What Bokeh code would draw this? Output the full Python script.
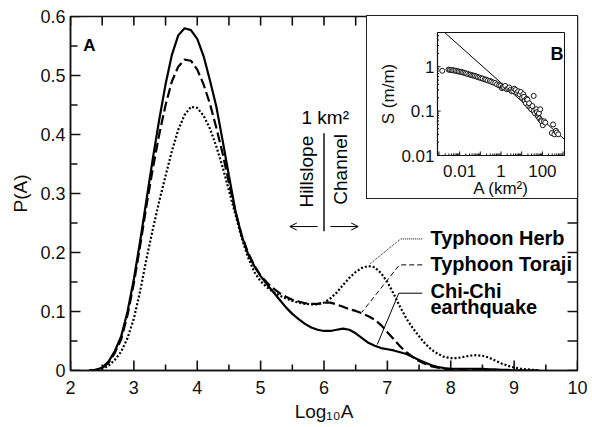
import math
from bokeh.plotting import figure
from bokeh.models import Range1d, FixedTicker, Arrow, OpenHead
from bokeh.layouts import column
from bokeh.embed import file_html
from bokeh.resources import INLINE
from bokeh.core.properties import value

FONT = "Liberation Sans"
INK = "#111111"

# ---------------- main panel data ----------------
log_area = [2.3, 2.4, 2.5, 2.6, 2.7, 2.8, 2.9, 3.0, 3.1, 3.2, 3.3, 3.4, 3.5, 3.6,
            3.7, 3.8, 3.9, 4.0, 4.1, 4.2, 4.3, 4.4, 4.5, 4.6, 4.7, 4.8, 4.9, 5.0,
            5.1, 5.2, 5.3, 5.4, 5.5, 5.6, 5.7, 5.8, 5.9, 6.0, 6.1, 6.2, 6.3, 6.4,
            6.5, 6.6, 6.7, 6.8, 6.9, 7.0, 7.1, 7.2, 7.3, 7.4, 7.5, 7.6, 7.7, 7.8,
            7.9, 8.0, 8.1, 8.2, 8.3, 8.4, 8.5, 8.6, 8.7, 8.8, 8.9, 9.0, 9.1, 9.2,
            9.3, 9.4]

chichi = [0.000, 0.001, 0.005, 0.015, 0.033, 0.058, 0.100, 0.155, 0.220, 0.290,
          0.360, 0.425, 0.485, 0.535, 0.568, 0.580, 0.577, 0.562, 0.533, 0.492,
          0.448, 0.390, 0.330, 0.272, 0.228, 0.198, 0.177, 0.160, 0.146, 0.133,
          0.120, 0.107, 0.096, 0.087, 0.079, 0.073, 0.069, 0.067, 0.067, 0.069,
          0.071, 0.069, 0.063, 0.055, 0.047, 0.042, 0.038, 0.036, 0.034, 0.031,
          0.028, 0.023, 0.018, 0.013, 0.009, 0.006, 0.004, 0.003, 0.003, 0.003,
          0.003, 0.003, 0.003, 0.002, 0.002, 0.001, 0.001, 0.000, 0.000, 0.000,
          0.000, 0.000]

toraji = [0.000, 0.001, 0.004, 0.013, 0.030, 0.053, 0.094, 0.148, 0.212, 0.280,
          0.343, 0.400, 0.450, 0.490, 0.515, 0.527, 0.525, 0.510, 0.485, 0.452,
          0.412, 0.368, 0.318, 0.270, 0.230, 0.200, 0.178, 0.161, 0.149, 0.139,
          0.131, 0.125, 0.120, 0.117, 0.114, 0.113, 0.113, 0.115, 0.115, 0.112,
          0.108, 0.104, 0.101, 0.097, 0.092, 0.086, 0.077, 0.065, 0.053, 0.041,
          0.031, 0.023, 0.016, 0.011, 0.007, 0.005, 0.003, 0.002, 0.002, 0.001,
          0.001, 0.001, 0.001, 0.001, 0.000, 0.000, 0.000, 0.000, 0.000, 0.000,
          0.000, 0.000]

herb = [0.000, 0.001, 0.003, 0.008, 0.018, 0.032, 0.055, 0.088, 0.135, 0.190,
        0.240, 0.287, 0.330, 0.372, 0.408, 0.433, 0.447, 0.445, 0.432, 0.410,
        0.380, 0.345, 0.305, 0.265, 0.225, 0.192, 0.167, 0.151, 0.141, 0.133,
        0.127, 0.122, 0.118, 0.115, 0.113, 0.112, 0.112, 0.115, 0.122, 0.132,
        0.145, 0.157, 0.167, 0.174, 0.177, 0.175, 0.165, 0.150, 0.130, 0.108,
        0.088, 0.072, 0.058, 0.045, 0.035, 0.028, 0.023, 0.021, 0.021, 0.023,
        0.025, 0.026, 0.025, 0.022, 0.017, 0.012, 0.008, 0.005, 0.003, 0.002,
        0.001, 0.000]

x_ticks = [2, 3, 4, 5, 6, 7, 8, 9, 10]
y_ticks = [0.0, 0.1, 0.2, 0.3, 0.4, 0.5, 0.6]

# labels and their leader lines (data coordinates)
series_labels = ["Typhoon Herb", "Typhoon Toraji", "Chi-Chi", "earthquake"]
label_x = [7.68, 7.68, 7.68, 7.68]
label_y = [0.224, 0.180, 0.135, 0.107]
herb_lead_x = [7.55, 7.21, 6.73]
herb_lead_y = [0.223, 0.223, 0.181]
toraji_lead_x = [7.55, 7.19, 6.60]
toraji_lead_y = [0.179, 0.179, 0.099]
chichi_lead_x = [7.55, 7.18, 6.84]
chichi_lead_y = [0.131, 0.131, 0.044]

# ---------------- inset data ----------------
inset_area = [0.00144, 0.0029, 0.0034, 0.0040, 0.0047, 0.0055, 0.0065, 0.0077,
              0.0090, 0.0107, 0.0125, 0.0146, 0.0170, 0.0200, 0.0235, 0.0290,
              0.0340, 0.0400, 0.0470, 0.0550, 0.0650, 0.0770, 0.0920, 0.110,
              0.130, 0.164, 0.190, 0.230, 0.290, 0.340, 0.420, 0.520, 0.640,
              0.800, 0.950, 1.10, 1.23, 1.40, 1.60, 1.90, 2.20, 2.50, 2.90, 3.30,
              3.90, 4.40, 5.10, 5.90, 6.80, 7.90, 9.10, 10.5, 12.0, 13.0, 14.0,
              16.0, 17.5, 19.0, 21.0, 23.0, 26.0, 29.0, 33.0, 38.0, 38.0, 44.0,
              51.0, 55.0, 59.0, 64.0, 68.0, 72.0, 79.0, 85.0, 91.0, 105.0, 120.0,
              138.0, 287.0, 330.0, 380.0, 450.0, 500.0, 585.0]
inset_slope = [0.81, 0.86, 0.85, 0.84, 0.83, 0.82, 0.81, 0.79, 0.78, 0.77, 0.76,
               0.74, 0.73, 0.71, 0.69, 0.67, 0.66, 0.64, 0.63, 0.62, 0.60, 0.58,
               0.57, 0.55, 0.54, 0.52, 0.51, 0.49, 0.48, 0.46, 0.44, 0.43, 0.40,
               0.38, 0.37, 0.33, 0.35, 0.34, 0.37, 0.31, 0.32, 0.34, 0.30, 0.28,
               0.285, 0.32, 0.30, 0.26, 0.28, 0.24, 0.27, 0.20, 0.24, 0.21, 0.17,
               0.15, 0.19, 0.18, 0.13, 0.15, 0.12, 0.11, 0.13, 0.22, 0.10, 0.089,
               0.11, 0.095, 0.08, 0.075, 0.09, 0.068, 0.11, 0.062, 0.059, 0.048,
               0.059, 0.055, 0.032, 0.05, 0.030, 0.036, 0.033, 0.030]
fit_area = [0.00187, 1175.0]
fit_slope = [5.9, 0.023]
inset_xticks = [0.01, 1, 100]
inset_yticks = [0.01, 0.1, 1]
inset_xlim = [8.5e-4, 1175]
inset_ylim = [0.01, 5.9]

# ---------------- geometry ----------------
W, H = 592, 427
B_LEFT, B_RIGHT, B_TOP, B_BOTTOM = 70, 15, 16, 57
IW, IH = 212, 184
IB_LEFT, IB_RIGHT, IB_TOP, IB_BOTTOM = 42, 4, 16, 44


def style_axis(ax, size="18px"):
    ax.axis_line_color = INK
    ax.axis_line_width = 1.5
    ax.major_tick_in = 0
    ax.major_tick_out = 0
    ax.minor_tick_in = 0
    ax.minor_tick_out = 0
    ax.major_label_text_font = FONT
    ax.major_label_text_font_size = size
    ax.major_label_text_color = INK
    ax.axis_label_text_font = FONT
    ax.axis_label_text_font_style = "normal"
    ax.axis_label_text_color = INK


# ---------------- main figure ----------------
p = figure(width=W, height=H, x_range=Range1d(x_ticks[0], x_ticks[-1]),
           y_range=Range1d(y_ticks[0], y_ticks[-1]),
           output_backend="svg", toolbar_location=None,
           min_border_left=B_LEFT, min_border_right=B_RIGHT, min_border_top=B_TOP,
           min_border_bottom=B_BOTTOM)
p.grid.visible = False
p.outline_line_color = INK
p.outline_line_width = 1.5
p.background_fill_color = "white"
p.border_fill_color = "white"

half_x = [x_ticks[0] + 0.5 * i for i in range(2 * (x_ticks[-1] - x_ticks[0]) + 1)]
half_y = [round(0.05 * i, 2) for i in range(2 * (len(y_ticks) - 1) + 1)]
minor_only_x = [v for v in half_x if v not in x_ticks]
minor_only_y = [v for v in half_y if v not in y_ticks]

p.xaxis.ticker = FixedTicker(ticks=x_ticks)
p.yaxis.ticker = FixedTicker(ticks=y_ticks)
style_axis(p.xaxis[0])
style_axis(p.yaxis[0])
p.xaxis.axis_label = "Log\u2081\u2080A"
p.xaxis.axis_label_text_font_size = "19px"
p.xaxis.major_label_standoff = 10
p.xaxis.axis_label_standoff = 4
p.yaxis.axis_label = "P(A)"
p.yaxis.axis_label_text_font_size = "19px"
p.yaxis.major_label_standoff = 5
p.yaxis.axis_label_standoff = 6

# inward tick marks on all four sides (pixel length -> data length)
x0, x1 = x_ticks[0], x_ticks[-1]
y0, y1 = y_ticks[0], y_ticks[-1]
dx = (x1 - x0) / (W - B_LEFT - B_RIGHT)
dy = (y1 - y0) / (H - B_TOP - B_BOTTOM)


def vticks(xs, ybase, sign, n_px):
    p.segment(x0=xs, y0=[ybase] * len(xs), x1=xs,
              y1=[ybase + sign * n_px * dy] * len(xs), line_color=INK, line_width=1.6)


def hticks(ys, xbase, sign, n_px):
    p.segment(x0=[xbase] * len(ys), y0=ys, x1=[xbase + sign * n_px * dx] * len(ys),
              y1=ys, line_color=INK, line_width=1.6)


vticks(x_ticks, y0, 1, 10)
vticks(minor_only_x, y0, 1, 6)
hticks(y_ticks, x0, 1, 10)
hticks(minor_only_y, x0, 1, 7)
vticks(half_x, y1, -1, 9)
hticks(half_y, x1, -1, 10)

p.line(log_area, chichi, line_color="black", line_width=2.2)
p.line(log_area, toraji, line_color="black", line_width=2.2, line_dash="10 4")
p.line(log_area, herb, line_color="black", line_width=2.2, line_dash="2 2")

p.line(herb_lead_x, herb_lead_y, line_color="black", line_width=1, line_dash="1 1")
p.line(toraji_lead_x, toraji_lead_y, line_color="black", line_width=1, line_dash="5 3")
p.line(chichi_lead_x, chichi_lead_y, line_color="black", line_width=1)

p.text(x=label_x, y=label_y, text=series_labels, text_font=value(FONT),
       text_font_style="bold", text_font_size="20px", text_color="black",
       text_align="left", text_baseline="middle")

# panel letter
p.text(x=[2.2], y=[0.551], text=["A"], text_font=value(FONT), text_font_style="bold",
       text_font_size="17px", text_color="black", text_align="left",
       text_baseline="alphabetic")

# hillslope / channel divider at 1 km2
p.line([6.0, 6.0], [0.402, 0.236], line_color=INK, line_width=1.5)
p.text(x=[6.02], y=[0.428], text=["1 km\u00b2"], text_font=value(FONT),
       text_font_size="19px", text_color="black", text_align="center",
       text_baseline="alphabetic")
p.text(x=[5.73, 6.26], y=[0.337, 0.341], text=["Hillslope", "Channel"],
       text_font=value(FONT), text_font_size="19px", text_color="black",
       text_align="center", text_baseline="middle", angle=1.5708)
p.add_layout(Arrow(end=OpenHead(size=7, line_width=1, line_color="black"),
                   x_start=5.9, y_start=0.244, x_end=5.46, y_end=0.244,
                   line_width=1, line_color="black"))
p.add_layout(Arrow(end=OpenHead(size=7, line_width=1, line_color="black"),
                   x_start=6.1, y_start=0.244, x_end=6.54, y_end=0.244,
                   line_width=1, line_color="black"))

# ---------------- inset ----------------
inset = figure(width=IW, height=IH, x_axis_type="log", y_axis_type="log",
               x_range=Range1d(*inset_xlim), y_range=Range1d(*inset_ylim),
               output_backend="svg", toolbar_location=None,
               min_border_left=IB_LEFT, min_border_right=IB_RIGHT,
               min_border_top=IB_TOP, min_border_bottom=IB_BOTTOM)
inset.styles = {"position": "absolute", "left": "366px", "top": "15px",
                "border": "1px solid #222", "background": "white",
                "box-sizing": "border-box"}
inset.grid.visible = False
inset.outline_line_color = INK
inset.outline_line_width = 1

minor_x = [m * 10.0 ** k for k in range(-4, 4) for m in range(2, 10)
           if inset_xlim[0] < m * 10.0 ** k < inset_xlim[1]]
decades_x = [10.0 ** k for k in range(-3, 4)
             if inset_xlim[0] < 10.0 ** k < inset_xlim[1]]
minor_y = [m * 10.0 ** k for k in range(-2, 1) for m in range(2, 10)
           if inset_ylim[0] < m * 10.0 ** k < inset_ylim[1]]
inset.xaxis.ticker = FixedTicker(ticks=inset_xticks)
inset.yaxis.ticker = FixedTicker(ticks=inset_yticks)
inset.xaxis.major_label_overrides = {0.01: "0.01", 1: "1", 100: "100"}
inset.yaxis.major_label_overrides = {0.01: "0.01", 0.1: "0.1", 1: "1"}
for ax in (inset.xaxis[0], inset.yaxis[0]):
    style_axis(ax, size="17px")
    ax.axis_line_width = 1.2
inset.xaxis.axis_label = "A (km\u00b2)"
inset.xaxis.axis_label_text_font_size = "17px"
inset.xaxis.major_label_standoff = 9
inset.xaxis.axis_label_standoff = -1
inset.yaxis.axis_label = "S (m/m)"
inset.yaxis.axis_label_text_font_size = "17px"
inset.yaxis.major_label_standoff = 3
inset.yaxis.axis_label_standoff = 0

# inward ticks for the log axes (pixel length -> multiplicative factor)
ifw = IW - 2 - IB_LEFT - IB_RIGHT
ifh = IH - 2 - IB_TOP - IB_BOTTOM
fx = (inset_xlim[1] / inset_xlim[0]) ** (1.0 / ifw)
fy = (inset_ylim[1] / inset_ylim[0]) ** (1.0 / ifh)
for xs, n_px in ((decades_x, 4), (minor_x, 2)):
    inset.segment(x0=xs, y0=[inset_ylim[0]] * len(xs), x1=xs,
                  y1=[inset_ylim[0] * fy ** n_px] * len(xs),
                  line_color=INK, line_width=1)
for ys, n_px in ((inset_yticks, 4), (minor_y, 2)):
    inset.segment(x0=[inset_xlim[0]] * len(ys), y0=ys,
                  x1=[inset_xlim[0] * fx ** n_px] * len(ys), y1=ys,
                  line_color=INK, line_width=1)

inset.line(fit_area, fit_slope, line_color="black", line_width=1)
inset.scatter(inset_area, inset_slope, size=5, marker="circle", line_color="black",
              fill_color="white", line_width=0.9)
inset.text(x=[246], y=[1.97], text=["B"], text_font=value(FONT), text_font_style="bold",
           text_font_size="18px", text_color="black", text_align="left",
           text_baseline="alphabetic")

layout = column(p, inset)
open("out.html", "w").write(file_html(layout, INLINE))
